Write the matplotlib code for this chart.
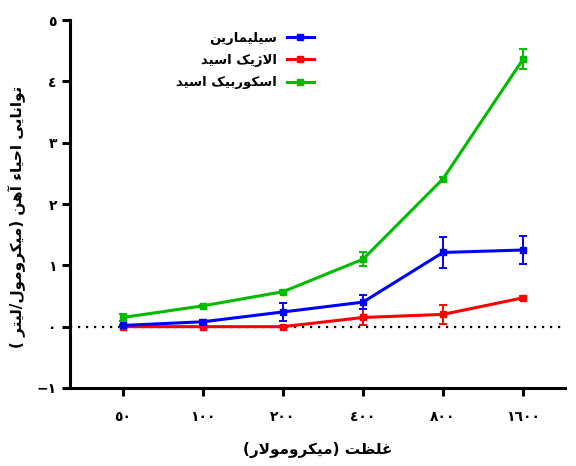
import matplotlib
matplotlib.use("Agg")
import matplotlib.pyplot as plt
from matplotlib.lines import Line2D

# --- data ---
concentrations = ["٥٠", "١٠٠", "٢٠٠", "٤٠٠", "٨٠٠", "١٦٠٠"]
silymarin = [0.02, 0.08, 0.24, 0.40, 1.21, 1.25]
silymarin_err = [0.01, 0.03, 0.15, 0.12, 0.26, 0.23]
ellagic = [0.0, 0.0, 0.0, 0.15, 0.20, 0.47]
ellagic_err = [0.01, 0.01, 0.01, 0.13, 0.15, 0.03]
ascorbic = [0.15, 0.34, 0.57, 1.10, 2.41, 4.36]
ascorbic_err = [0.05, 0.02, 0.02, 0.11, 0.03, 0.16]
y_ticks = [-1, 0, 1, 2, 3, 4, 5]
y_tick_labels = ["−١", "٠", "١", "٢", "٣", "٤", "٥"]

series_names = ["سیلیمارین", "الاژیک اسید", "اسکوربیک اسید"]
x_title = "غلظت (میکرومولار)"
y_title = "توانایی احیاء آهن (میکرومول/لیتر )"

# matplotlib does no arabic shaping, so pick presentation forms by hand
# (isolated, final, initial, medial)
FORMS = {
    "ا": ("\uFE8D", "\uFE8E", None, None),
    "آ": ("\uFE81", "\uFE82", None, None),
    "ء": ("\uFE80", None, None, None),
    "ب": ("\uFE8F", "\uFE90", "\uFE91", "\uFE92"),
    "ت": ("\uFE95", "\uFE96", "\uFE97", "\uFE98"),
    "ح": ("\uFEA1", "\uFEA2", "\uFEA3", "\uFEA4"),
    "د": ("\uFEA9", "\uFEAA", None, None),
    "ر": ("\uFEAD", "\uFEAE", None, None),
    "ژ": ("\uFB8A", "\uFB8B", None, None),
    "س": ("\uFEB1", "\uFEB2", "\uFEB3", "\uFEB4"),
    "ظ": ("\uFEC5", "\uFEC6", "\uFEC7", "\uFEC8"),
    "غ": ("\uFECD", "\uFECE", "\uFECF", "\uFED0"),
    "ک": ("\uFB8E", "\uFB8F", "\uFB90", "\uFB91"),
    "ل": ("\uFEDD", "\uFEDE", "\uFEDF", "\uFEE0"),
    "م": ("\uFEE1", "\uFEE2", "\uFEE3", "\uFEE4"),
    "ن": ("\uFEE5", "\uFEE6", "\uFEE7", "\uFEE8"),
    "ه": ("\uFEE9", "\uFEEA", "\uFEEB", "\uFEEC"),
    "و": ("\uFEED", "\uFEEE", None, None),
    "ی": ("\uFBFC", "\uFBFD", "\uFBFE", "\uFBFF"),
}
LAM_ALEF = {"ا": ("\uFEFB", "\uFEFC"), "آ": ("\uFEF5", "\uFEF6")}


def rtl(text):
    chars = list(text)
    out = []
    i = 0
    while i < len(chars):
        c = chars[i]
        if c not in FORMS:
            out.append(c)
            i += 1
            continue
        prev = chars[i - 1] if i > 0 else ""
        p = prev in FORMS and FORMS[prev][2] is not None and FORMS[c][1] is not None
        if c == "ل" and i + 1 < len(chars) and chars[i + 1] in LAM_ALEF:
            lig = LAM_ALEF[chars[i + 1]]
            out.append(lig[1] if p else lig[0])
            i += 2
            continue
        nxt = chars[i + 1] if i + 1 < len(chars) else ""
        n = FORMS[c][2] is not None and nxt in FORMS and FORMS[nxt][1] is not None
        iso, fin, ini, med = FORMS[c]
        if p and n:
            out.append(med)
        elif p:
            out.append(fin)
        elif n:
            out.append(ini)
        else:
            out.append(iso)
        i += 1
    return "".join(out)[::-1].translate(str.maketrans("()", ")("))


plt.rcParams["font.family"] = ["DejaVu Sans"]

fig = plt.figure(figsize=(5.76, 4.66), dpi=100)
ax = fig.add_axes([70 / 576, 1 - 388 / 466, 495 / 576, 368 / 466])

x = list(range(len(concentrations)))
ax.axhline(0, color="black", linestyle=(0, (1, 2.6)), linewidth=1.6, zorder=1)

styles = [
    (silymarin, silymarin_err, "#0000ff", 4),
    (ellagic, ellagic_err, "#ff0000", 3),
    (ascorbic, ascorbic_err, "#00bb00", 5),
]
handles = []
for (vals, err, color, z), name in zip(styles, series_names):
    ax.errorbar(x, vals, yerr=err, color=color, linewidth=2.2, marker="s",
                markersize=5, elinewidth=1.4, capsize=3, capthick=1.4, zorder=z)
    handles.append(Line2D([], [], color=color, linewidth=2.2, marker="s",
                          markersize=5, label=rtl(name)))

ax.set_xlim(-0.6625, 5.525)
ax.set_ylim(-1, 5)
ax.set_xticks(x)
ax.set_xticklabels(concentrations, fontsize=10, fontweight="bold")
ax.set_yticks(y_ticks)
ax.set_yticklabels(y_tick_labels, fontsize=10, fontweight="bold")

for side in ["top", "right"]:
    ax.spines[side].set_visible(False)
for side in ["left", "bottom"]:
    ax.spines[side].set_linewidth(2.2)
ax.tick_params(axis="both", length=6, width=2.2, direction="out")
ax.tick_params(axis="x", pad=10)

ax.set_xlabel(rtl(x_title), fontsize=11, fontweight="bold", labelpad=13)
ax.set_ylabel(rtl(y_title), fontsize=11, fontweight="bold", labelpad=8, y=0.465)

ax.legend(handles=handles, loc="upper left", bbox_to_anchor=(0.19, 1.0),
          frameon=False, markerfirst=False,
          prop={"weight": "bold", "size": 9.5},
          handlelength=2.0, labelspacing=0.7)

fig.savefig("out.png", dpi=100)
